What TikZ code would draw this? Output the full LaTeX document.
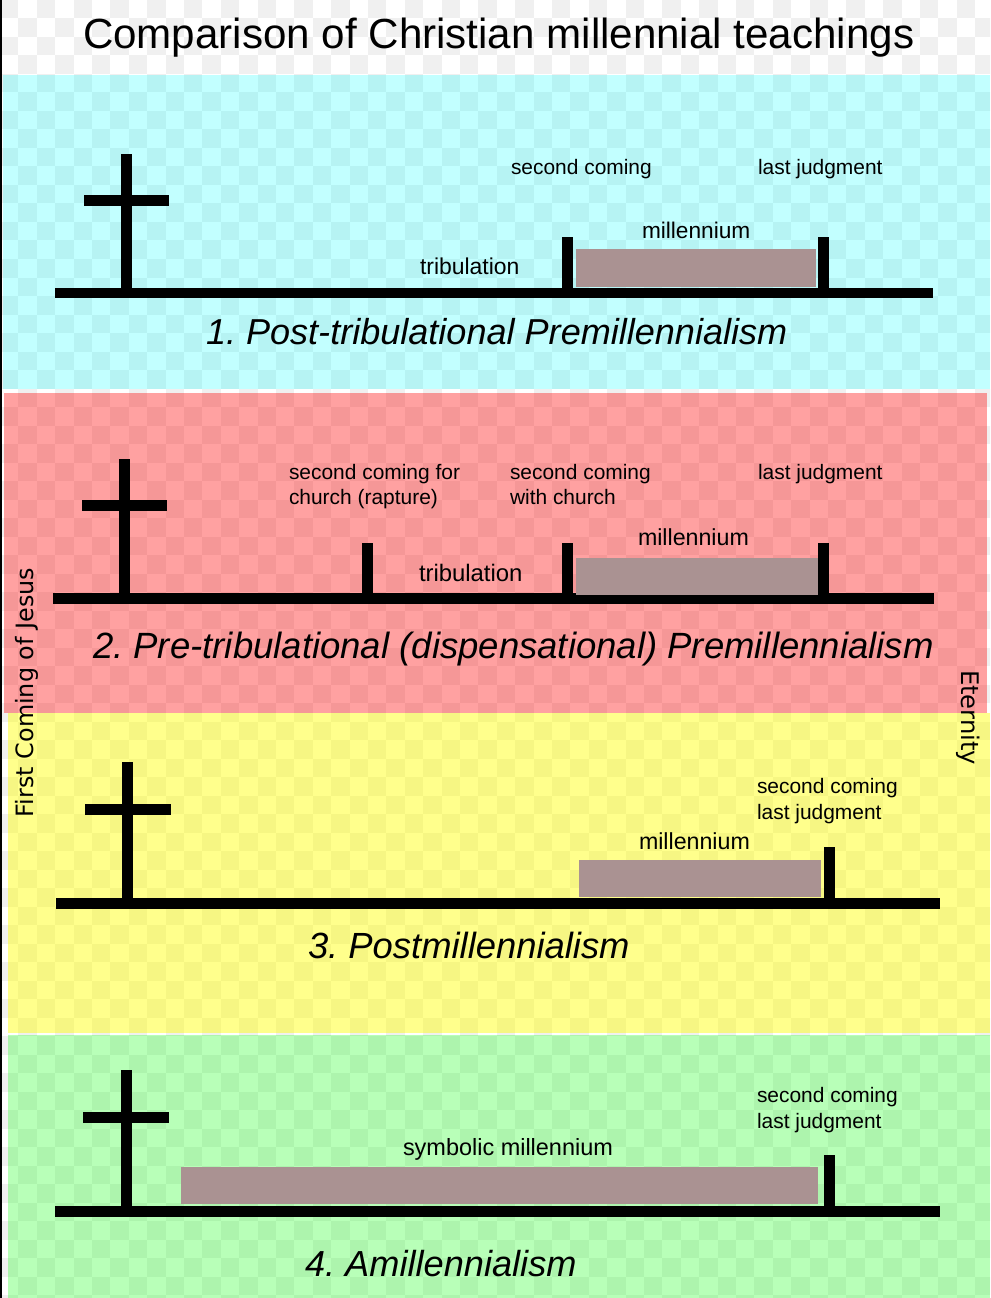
\documentclass[tikz,border=0pt]{standalone}
\usepackage{fontspec}
\setmainfont{Liberation Sans}
\newfontfamily\sidefont{DejaVu Sans}
\newcommand{\fs}[1]{\fontsize{#1}{#1}\selectfont}
\definecolor{chk}{HTML}{F0F0F0}
\definecolor{milcol}{HTML}{AA9292}
\definecolor{bcyan}{HTML}{00FFFF}
\definecolor{bred}{HTML}{FF0000}
\definecolor{byellow}{HTML}{FFFF00}
\definecolor{bgreen}{HTML}{00FF00}
\tikzset{
  x=0.75pt,y=-0.75pt,
  lab/.style={anchor=base west,inner sep=0pt,outer sep=0pt,text=black,font=\fs{15.7}},
  labb/.style={anchor=base west,inner sep=0pt,outer sep=0pt,text=black,font=\fs{#1}},
  head/.style={anchor=base west,inner sep=0pt,outer sep=0pt,text=black,font=\fs{#1}\itshape},
  side/.style={anchor=base west,inner sep=0pt,outer sep=0pt,text=black,font=\sidefont\fs{#1}},
  bar/.style={fill=black,draw=none},
  mil/.style={fill=milcol,draw=none},
}
\begin{document}
\frenchspacing
\begin{tikzpicture}
\useasboundingbox (0,0) rectangle (990,1298);
\fill[white] (0,0) rectangle (990,1298);
% transparency checkerboard
\begin{scope}
\clip (0,0) rectangle (990,1298);
\foreach \r in {0,...,70}{
  \foreach \c in {0,...,53}{
    \pgfmathtruncatemacro{\p}{mod(\r+\c,2)}
    \ifnum\p=0
      \fill[chk] ({\c*18.4},{\r*18.5}) rectangle ({(\c+1)*18.4},{(\r+1)*18.5});
    \fi
  }
}
\end{scope}
\fill[black] (0,0) rectangle (2,1298);
% bands
\fill[bcyan,fill opacity=.24] (3,75) rectangle (990,389);
\fill[bred,fill opacity=.37] (4,393) rectangle (987,713);
\fill[byellow,fill opacity=.45] (8,713) rectangle (990,1033);
\fill[bgreen,fill opacity=.28] (8,1035) rectangle (990,1298);
% title
\node[labb=31.6] (title) at (83,49) {Comparison of Christian millennial teachings};
% row 1
\fill[bar] (121,154) rectangle (132,288);
\fill[bar] (84,195) rectangle (169,206);
\fill[bar] (55,288) rectangle (933,298);
\fill[bar] (562,237) rectangle (573,288);
\fill[bar] (818,237) rectangle (829,288);
\fill[mil] (576,249) rectangle (816,287);
\node[lab] (a1) at (511,174.5) {second coming};
\node[lab] (a2) at (758,174.5) {last judgment};
\node[labb=17] (a3) at (642,238.5) {millennium};
\node[labb=17.2] (a4) at (420,274) {tribulation};
\node[head=27.05] (a5) at (206,344) {1. Post-tribulational Premillennialism};
% row 2
\fill[bar] (119,459) rectangle (130,593);
\fill[bar] (82,500) rectangle (167,511);
\fill[bar] (53,593) rectangle (934,604);
\fill[bar] (362,543) rectangle (373,593);
\fill[bar] (562,543) rectangle (573,593);
\fill[bar] (818,543) rectangle (829,593);
\fill[mil] (576,558) rectangle (818,595);
\node[lab] (b1) at (289,479) {second coming for};
\node[lab] (b2) at (289,504) {church (rapture)};
\node[lab] (b3) at (510,479) {second coming};
\node[lab] (b4) at (510,504) {with church};
\node[lab] (b5) at (758,479) {last judgment};
\node[labb=17.4] (b6) at (638,545) {millennium};
\node[labb=17.9] (b7) at (419,581) {tribulation};
\node[head=27.4] (b8) at (93,658) {2. Pre-tribulational (dispensational) Premillennialism};
% row 3
\fill[bar] (122,762) rectangle (133,898);
\fill[bar] (85,804) rectangle (171,815);
\fill[bar] (56,898) rectangle (940,909);
\fill[bar] (824,847) rectangle (835,898);
\fill[mil] (579,860) rectangle (821,897);
\node[lab] (c1) at (757,793) {second coming};
\node[lab] (c2) at (757,819) {last judgment};
\node[labb=17.4] (c3) at (639,849) {millennium};
\node[head=27.3] (c4) at (308,958) {3. Postmillennialism};
% row 4
\fill[bar] (121,1070) rectangle (132,1206);
\fill[bar] (83,1112) rectangle (169,1123);
\fill[bar] (55,1206) rectangle (940,1217);
\fill[bar] (824,1155) rectangle (835,1206);
\fill[mil] (181,1167) rectangle (818,1204);
\node[lab] (d1) at (757,1102.5) {second coming};
\node[lab] (d2) at (757,1128) {last judgment};
\node[labb=17.6] (d3) at (403,1155) {symbolic millennium};
\node[head=27.15] (d4) at (305,1276) {4. Amillennialism};
% side labels
\node[side=17.9,rotate=90] (s1) at (33,817) {First Coming of Jesus};
\node[side=18.2,rotate=-90] (s2) at (961,670) {Eternity};
\end{tikzpicture}
\end{document}
